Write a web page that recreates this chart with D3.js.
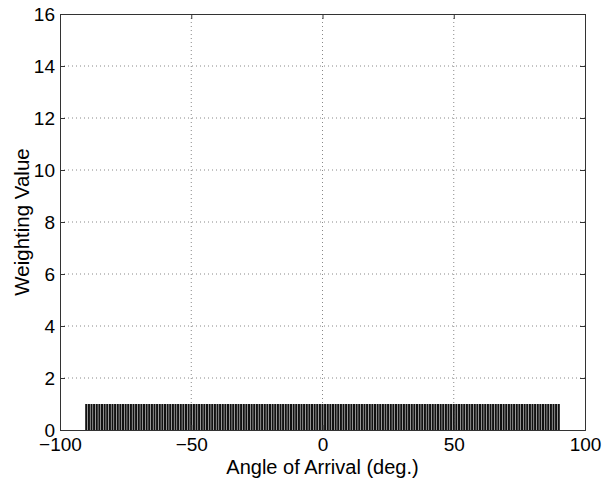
<!DOCTYPE html>
<html>
  <head>
    <script src="https://d3js.org/d3.v7.min.js"></script>
    <style>
      body { margin: 0; background: #fff; }
      text { font-family: "Liberation Sans", Arial, sans-serif; fill: #000; }
      .grid line { stroke: #888; stroke-dasharray: 1,3; }
    </style>
  </head>
  <body>
    <svg id="plot" width="605" height="481"></svg>
    <script>
      // angle of arrival (deg.) for each weight
      const angles = [
        -90,-89,-88,-87,-86,-85,-84,-83,-82,-81,-80,-79,-78,-77,-76,-75,-74,-73,-72,-71,
        -70,-69,-68,-67,-66,-65,-64,-63,-62,-61,-60,-59,-58,-57,-56,-55,-54,-53,-52,-51,
        -50,-49,-48,-47,-46,-45,-44,-43,-42,-41,-40,-39,-38,-37,-36,-35,-34,-33,-32,-31,
        -30,-29,-28,-27,-26,-25,-24,-23,-22,-21,-20,-19,-18,-17,-16,-15,-14,-13,-12,-11,
        -10,-9,-8,-7,-6,-5,-4,-3,-2,-1,0,1,2,3,4,5,6,7,8,9,
        10,11,12,13,14,15,16,17,18,19,20,21,22,23,24,25,26,27,28,29,
        30,31,32,33,34,35,36,37,38,39,40,41,42,43,44,45,46,47,48,49,
        50,51,52,53,54,55,56,57,58,59,60,61,62,63,64,65,66,67,68,69,
        70,71,72,73,74,75,76,77,78,79,80,81,82,83,84,85,86,87,88,89,
        90
      ];
      const weights = [
        1,1,1,1,1,1,1,1,1,1,1,1,1,1,1,1,1,1,1,1,
        1,1,1,1,1,1,1,1,1,1,1,1,1,1,1,1,1,1,1,1,
        1,1,1,1,1,1,1,1,1,1,1,1,1,1,1,1,1,1,1,1,
        1,1,1,1,1,1,1,1,1,1,1,1,1,1,1,1,1,1,1,1,
        1,1,1,1,1,1,1,1,1,1,1,1,1,1,1,1,1,1,1,1,
        1,1,1,1,1,1,1,1,1,1,1,1,1,1,1,1,1,1,1,1,
        1,1,1,1,1,1,1,1,1,1,1,1,1,1,1,1,1,1,1,1,
        1,1,1,1,1,1,1,1,1,1,1,1,1,1,1,1,1,1,1,1,
        1,1,1,1,1,1,1,1,1,1,1,1,1,1,1,1,1,1,1,1,
        1
      ];
      const xTicks = [-100, -50, 0, 50, 100];
      const yTicks = [0, 2, 4, 6, 8, 10, 12, 14, 16];

      const margin = { top: 14, right: 20, bottom: 51, left: 60 };
      const svg = d3.select("#plot");
      const width = +svg.attr("width") - margin.left - margin.right;
      const height = +svg.attr("height") - margin.top - margin.bottom;

      const x = d3.scaleLinear().domain([-100, 100]).range([0, width]);
      const y = d3.scaleLinear().domain([0, 16]).range([height, 0]);

      const g = svg.append("g")
        .attr("transform", "translate(" + margin.left + "," + margin.top + ")");

      // dotted grid
      g.append("g").attr("class", "grid")
        .selectAll("line").data(xTicks.slice(1, -1)).enter().append("line")
        .attr("x1", d => x(d)).attr("x2", d => x(d))
        .attr("y1", 0).attr("y2", height);
      g.append("g").attr("class", "grid")
        .selectAll("line").data(yTicks.slice(1, -1)).enter().append("line")
        .attr("x1", 0).attr("x2", width)
        .attr("y1", d => y(d)).attr("y2", d => y(d));

      // bars
      const bw = x(0.8) - x(0);
      g.append("g").selectAll("rect")
        .data(angles.map((a, i) => ({ a: a, w: weights[i] })))
        .enter().append("rect")
        .attr("x", d => x(d.a) - bw / 2)
        .attr("width", bw)
        .attr("y", d => y(d.w))
        .attr("height", d => y(0) - y(d.w))
        .attr("fill", "#111");

      // axes, MATLAB style: inward ticks, box on all sides
      const tick = 5;
      g.append("g")
        .attr("transform", "translate(0," + height + ")")
        .call(d3.axisBottom(x).tickValues(xTicks).tickSize(-tick).tickPadding(8)
          .tickFormat(d => d < 0 ? "\u2212" + Math.abs(d) : d));
      g.append("g")
        .call(d3.axisLeft(y).tickValues(yTicks).tickSize(-tick).tickPadding(5));
      g.append("g")
        .call(d3.axisTop(x).tickValues(xTicks).tickSize(-tick).tickFormat(""));
      g.append("g")
        .attr("transform", "translate(" + width + ",0)")
        .call(d3.axisRight(y).tickValues(yTicks).tickSize(-tick).tickFormat(""));

      g.selectAll(".domain").attr("stroke", "#333").attr("stroke-width", 1);
      g.selectAll(".tick line").attr("stroke", "#333");
      g.selectAll(".tick text").style("font-size", "19px")
        .style("font-family", "'Liberation Sans', Arial, sans-serif").attr("fill", "#000");

      // labels
      g.append("text")
        .attr("x", width / 2).attr("y", height + 44)
        .attr("text-anchor", "middle")
        .style("font-size", "20px")
        .text("Angle of Arrival (deg.)");

      g.append("text")
        .attr("transform", "rotate(-90)")
        .attr("x", -height / 2).attr("y", -31)
        .attr("text-anchor", "middle")
        .style("font-size", "20.5px")
        .text("Weighting Value");
    </script>
  </body>
</html>
